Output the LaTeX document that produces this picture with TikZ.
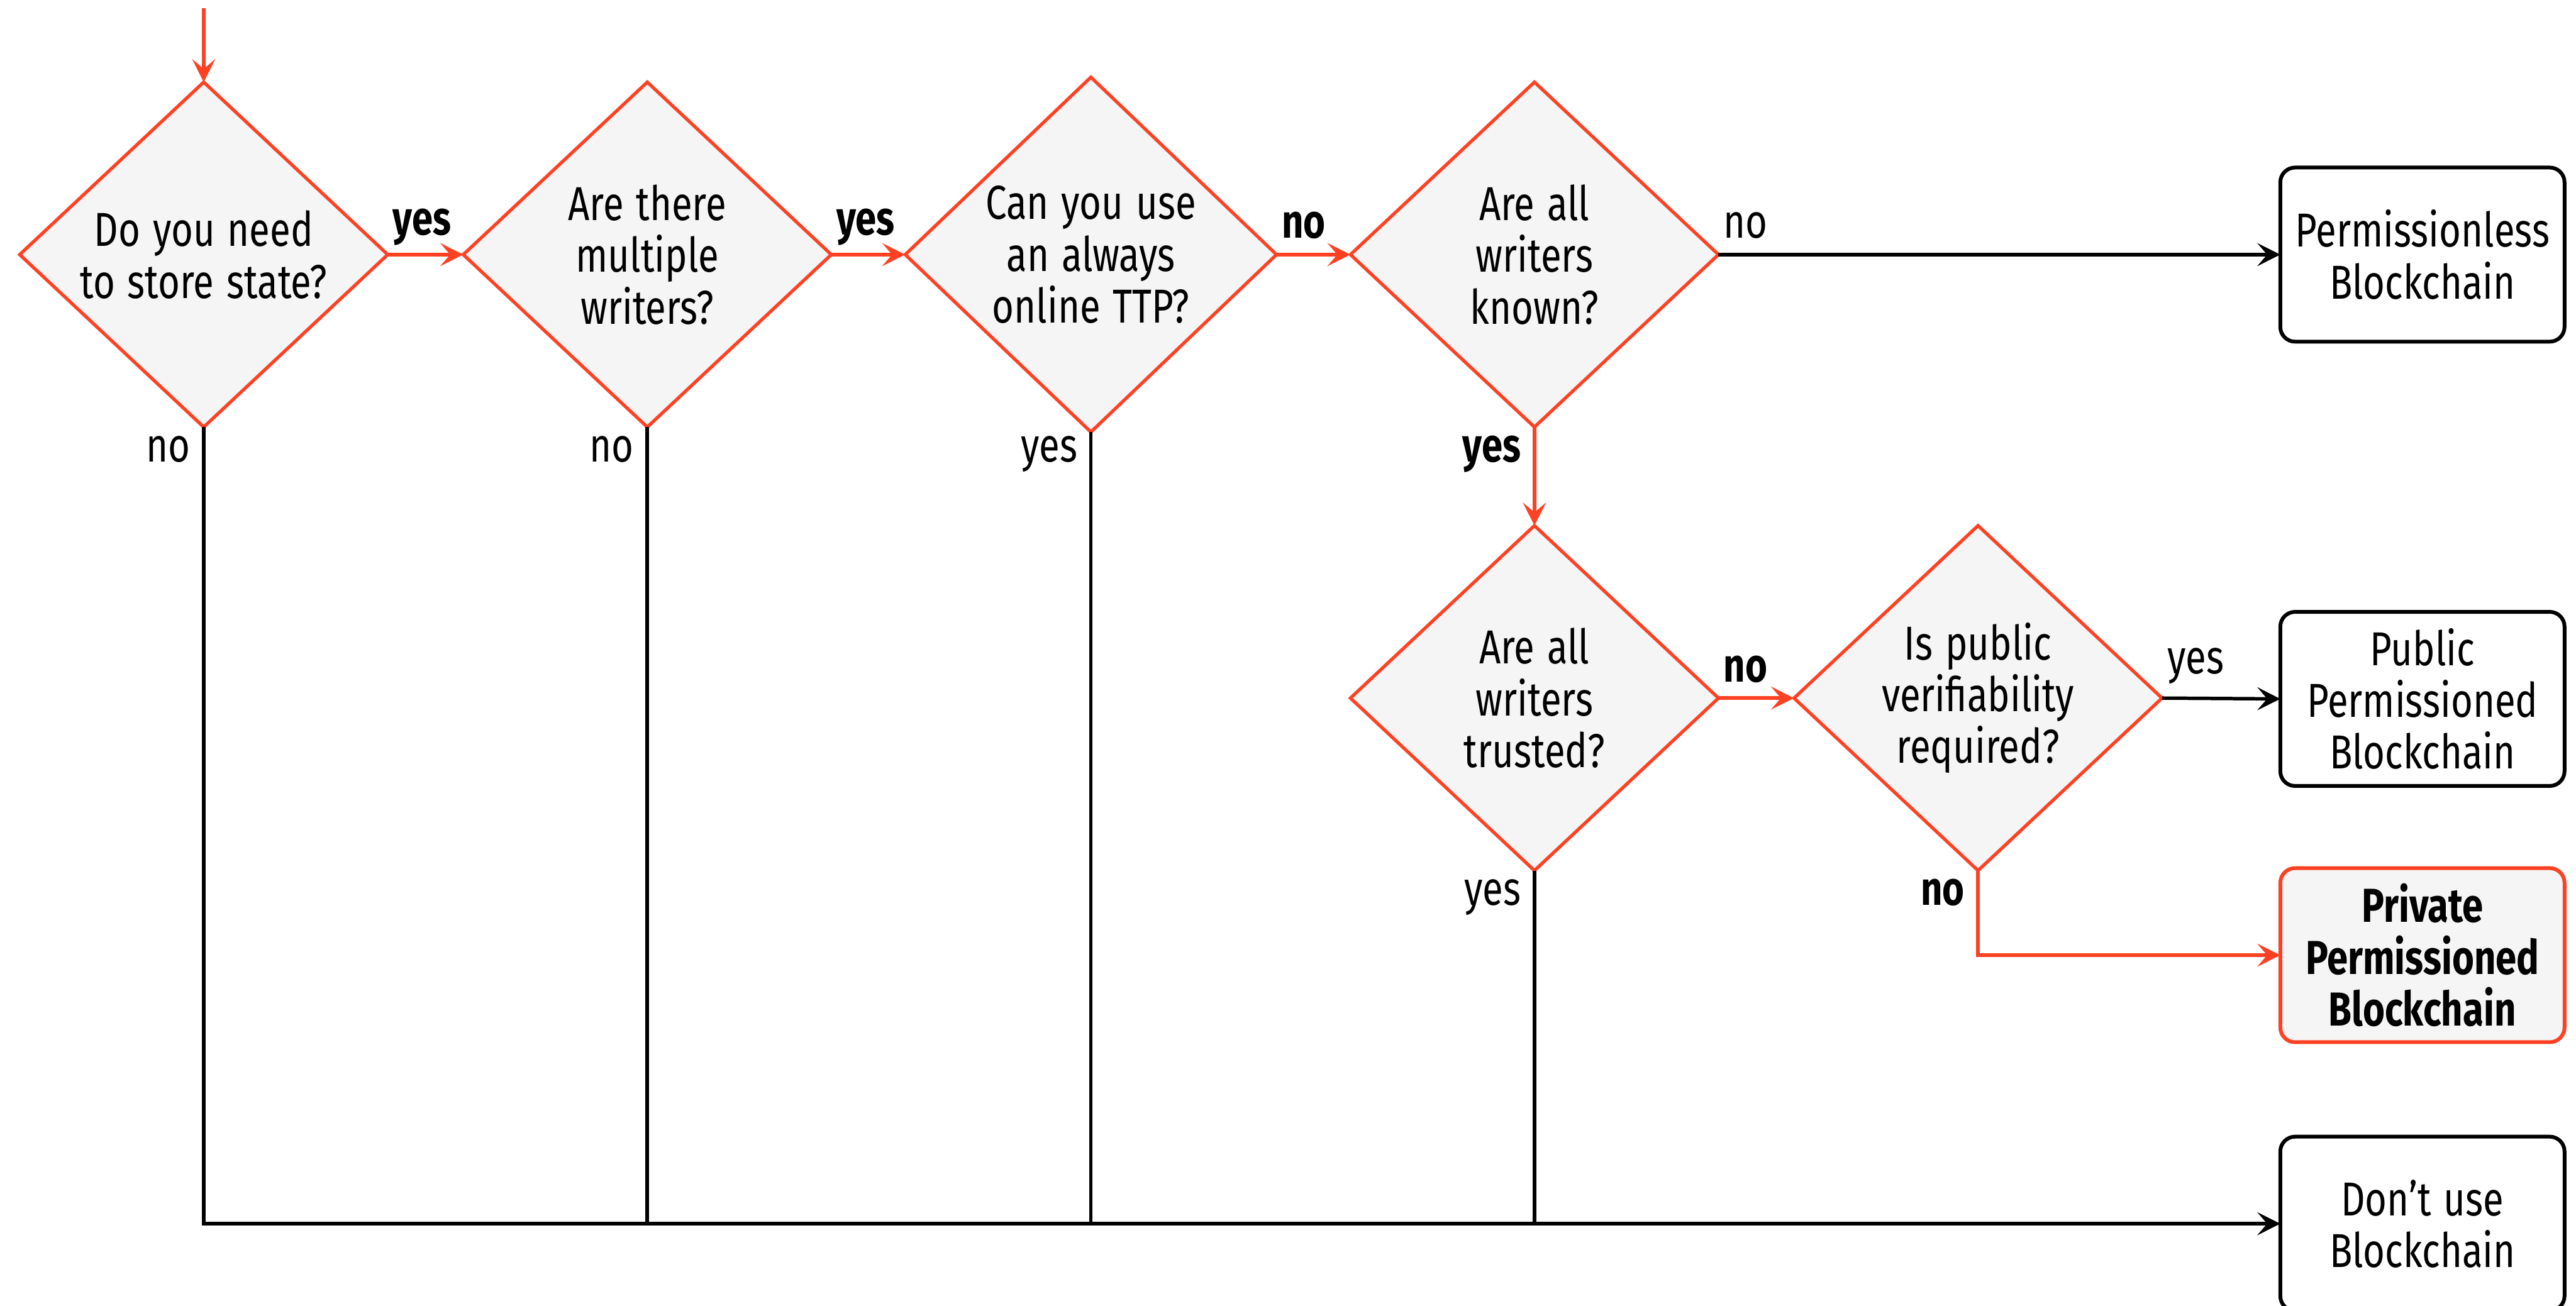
\documentclass[tikz,border=0pt]{standalone}
\usepackage{fontspec}
\setmainfont[FakeStretch=0.79,WordSpace=1.25]{Fira Sans}
\usetikzlibrary{shapes.geometric,arrows.meta}
\definecolor{ored}{HTML}{FF4123}
\definecolor{ofill}{HTML}{F5F5F5}
\tikzset{
 dec/.style={diamond, draw=ored, fill=ofill, line width=2pt, inner sep=0pt, outer sep=0pt, minimum width=224pt, minimum height=210pt},
 qtext/.style={align=center, font=\fontsize{29}{31.5}\selectfont, inner sep=0pt},
 endbox/.style={draw=black, line width=2.3pt, rounded corners=9pt, minimum width=173pt, minimum height=106pt, align=center, font=\fontsize{29}{31.5}\selectfont, inner sep=0pt, outer sep=0pt},
 hibox/.style={endbox, draw=ored, fill=ofill, font=\fontsize{29}{31.5}\selectfont\bfseries},
 lbl/.style={font=\fontsize{29}{30}\selectfont, inner sep=0pt},
 blbl/.style={font=\fontsize{29}{30}\selectfont\bfseries, inner sep=0pt},
 link/.style={line width=2.1pt, -{Stealth[length=14pt,width=14pt,inset=6pt]}},
 redlink/.style={link, draw=ored},
 blklink/.style={link, draw=black},
 plainline/.style={line width=2.1pt, draw=black},
}
\begin{document}
\begin{tikzpicture}[x=1pt,y=-1pt]
\useasboundingbox (0,0) rectangle (1568,795);
% decisions
\node[dec] (d1) at (124,155) {};
\node[dec] (d2) at (394,155) {};
\node[dec, minimum width=226pt, minimum height=216pt] (d3) at (664,155) {};
\node[dec] (d4) at (934,155) {};
\node[dec] (d5) at (934,425) {};
\node[dec] (d6) at (1204,425) {};
\node[qtext] (t1) at (124,155) {Do you need\\to store state?};
\node[qtext] (t2) at (394,155) {Are there\\multiple\\writers?};
\node[qtext] (t3) at (664,155) {Can you use\\an always\\online TTP?};
\node[qtext] (t4) at (934,155) {Are all\\writers\\known?};
\node[qtext] (t5) at (934,425) {Are all\\writers\\trusted?};
\node[qtext] (t6) at (1204,425) {Is public\\verifiability\\required?};
% outcomes
\node[endbox] (pless) at (1474.5,155) {Permissionless\\Blockchain};
\node[endbox] (pub) at (1474.5,425.5) {Public\\Permissioned\\Blockchain};
\node[hibox] (priv) at (1474.5,581.5) {Private\\Permissioned\\Blockchain};
\node[endbox] (dont) at (1474.5,745) {Don’t use\\Blockchain};
% start
\coordinate (start) at (124,5);
\draw[redlink] (start) -- (d1.north);
% main chain
\draw[redlink] (d1.east) -- (d2.west);
\draw[redlink] (d2.east) -- (d3.west);
\draw[redlink] (d3.east) -- (d4.west);
\draw[redlink] (d4.south) -- (d5.north);
\draw[redlink] (d5.east) -- (d6.west);
\draw[redlink] (d6.south) |- (priv.west);
\draw[blklink] (d4.east) -- (pless.west);
\draw[blklink] (d6.east) -- (pub.west);
% to don't use
\draw[plainline] (d2.south) -- (d2.south |- dont.west);
\draw[plainline] (d3.south) -- (d3.south |- dont.west);
\draw[plainline] (d5.south) -- (d5.south |- dont.west);
\draw[blklink] (d1.south) |- (dont.west);
% labels
\node[blbl, anchor=base west] (l1) at (239,143) {yes};
\node[blbl, anchor=base west] (l2) at (509,143) {yes};
\node[blbl, anchor=base west] (l3) at (780,145) {no};
\node[lbl, anchor=base west] (l4) at (1049,145) {no};
\node[blbl, anchor=base west] (l5) at (1049,415) {no};
\node[lbl, anchor=base west] (l6) at (1319,410) {yes};
\node[lbl, anchor=base east] (b1) at (116,281) {no};
\node[lbl, anchor=base east] (b2) at (386,281) {no};
\node[lbl, anchor=base east] (b3) at (656,281) {yes};
\node[blbl, anchor=base east] (b4) at (926,281) {yes};
\node[lbl, anchor=base east] (b5) at (926,551) {yes};
\node[blbl, anchor=base east] (b6) at (1196,551) {no};
\end{tikzpicture}
\end{document}
